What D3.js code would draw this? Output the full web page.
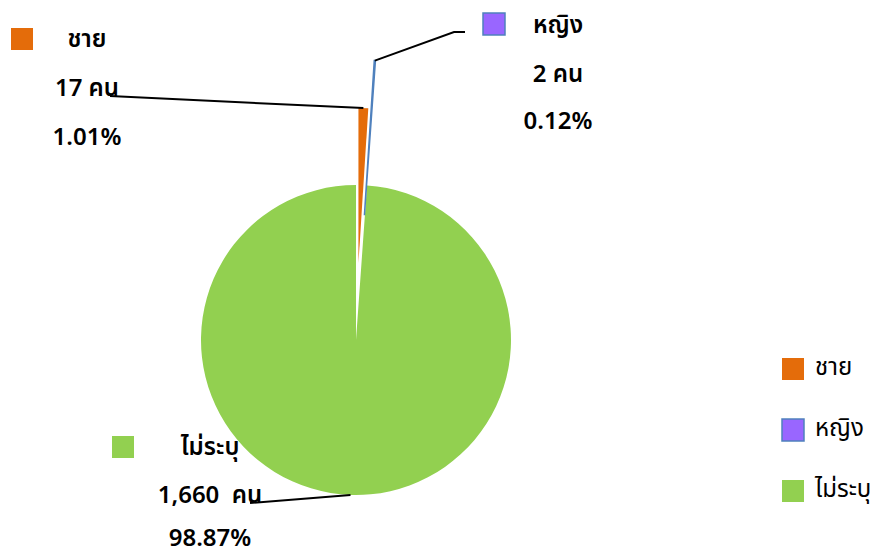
<!DOCTYPE html>
<html>
<head>
<meta charset="utf-8">
<script src="https://cdn.jsdelivr.net/npm/d3@7"></script>
<style>
  body { margin: 0; background: #fff; }
  svg text { font-family: Tahoma, "Noto Sans Thai", "Noto Sans", sans-serif; fill: #000; }
</style>
</head>
<body>
<div id="chart"></div>
<script>
const categories = ['ชาย', 'หญิง', 'ไม่ระบุ'];
const counts = [17, 2, 1660];
const countLabels = ['17 คน', '2 คน', '1,660  คน'];
const percentLabels = ['1.01%', '0.12%', '98.87%'];
const colors = ['#E46C0A', '#9966FF', '#92D050'];
const strokes = ['none', '#4F81BD', 'none'];

const width = 880, height = 558;
const cx = 356, cy = 340, radius = 155;
// how far each slice is pulled out of the pie
const explode = [77, 125, 0];

const svg = d3.select('#chart').append('svg')
  .attr('width', width)
  .attr('height', height);

const pie = d3.pie().sort(null).value(d => d);
const arcs = pie(counts);
const arc = d3.arc().innerRadius(0).outerRadius(radius);

const offset = (d, i) => {
  const a = (d.startAngle + d.endAngle) / 2;
  return [explode[i] * Math.sin(a), -explode[i] * Math.cos(a)];
};

const g = svg.append('g').attr('transform', `translate(${cx}, ${cy})`);

// draw big slice first, small ones on top
const order = [2, 0, 1];
g.selectAll('path.slice')
  .data(order.map(i => ({ d: arcs[i], i })))
  .enter()
  .append('path')
  .attr('class', 'slice')
  .attr('transform', o => `translate(${offset(o.d, o.i)})`)
  .attr('d', o => arc(o.d))
  .attr('fill', o => colors[o.i])
  .attr('stroke', o => strokes[o.i])
  .attr('stroke-width', 1.5);

// data label boxes
const labels = [
  { x: 11, y: 28, tx: 87, rows: [47, 96, 145], anchor: [[110, 96]] },
  { x: 483, y: 13, tx: 558, rows: [33, 82, 129], anchor: [[465, 32], [454, 32]] },
  { x: 112, y: 436, tx: 210, rows: [455, 503, 546], anchor: [[250, 503]] }
];

labels.forEach((l, i) => {
  const d = arcs[i];
  const a = (d.startAngle + d.endAngle) / 2;
  const r = radius + explode[i];
  const edge = [cx + r * Math.sin(a), cy - r * Math.cos(a)];
  const pts = l.anchor.concat([edge]);
  svg.append('path')
    .attr('d', d3.line()(pts))
    .attr('fill', 'none')
    .attr('stroke', '#000')
    .attr('stroke-width', 2);

  svg.append('rect')
    .attr('x', l.x).attr('y', l.y)
    .attr('width', 22).attr('height', 22)
    .attr('fill', colors[i])
    .attr('stroke', strokes[i])
    .attr('stroke-width', 1.5);

  [categories[i], countLabels[i], percentLabels[i]].forEach((t, k) => {
    svg.append('text')
      .attr('x', l.tx)
      .attr('y', l.rows[k])
      .attr('text-anchor', 'middle')
      .style('font-size', '24px')
      .style('font-weight', 600)
      .style('white-space', 'pre')
      .text(t);
  });
});

// legend
const legend = svg.append('g').attr('transform', 'translate(782, 358)');
const item = legend.selectAll('g')
  .data(categories)
  .enter()
  .append('g')
  .attr('transform', (d, i) => `translate(0, ${i * 61})`);

item.append('rect')
  .attr('width', 22).attr('height', 22)
  .attr('fill', (d, i) => colors[i])
  .attr('stroke', (d, i) => strokes[i])
  .attr('stroke-width', 1.5);

item.append('text')
  .attr('x', 33)
  .attr('y', 17)
  .style('font-size', '24px')
  .text(d => d);
</script>
</body>
</html>
